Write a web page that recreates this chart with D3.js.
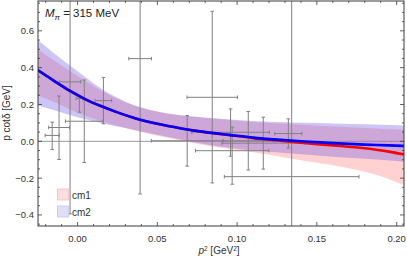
<!DOCTYPE html>
<html>
<head>
<meta charset="utf-8">
<script src="https://cdn.jsdelivr.net/npm/d3@7"></script>
<style>
  body { margin: 0; background: #fff; }
  text { font-family: "Liberation Sans", Arial, sans-serif; }
</style>
</head>
<body>
<script>
// lattice points: p^2, its error, p cot delta and its lower / upper ends
const pointX    = [-0.0159, -0.0116, -0.0047, 0.0011, 0.0042, 0.0162, 0.0392, 0.0687, 0.0844, 0.0959, 0.0969, 0.107, 0.1164, 0.1321, 0.1342];
const pointXErr = [0.0044, 0.0065, 0.0067, 0.002, 0.0118, 0.0052, 0.0071, 0.0225, 0.0158, 0.0243, 0.023, 0.016, 0.026, 0.0085, 0.0422];
const pointY    = [0.032, 0.075, 0.323, 0.232, 0.109, 0.221, 0.449, 0.003, 0.239, 0.049, -0.051, 0.003, -0.01, 0.042, -0.192];
const pointYLo  = [-0.045, -0.099, -0.394, 0.158, -0.115, 0.095, -0.286, -0.135, -0.226, -0.081, -0.233, -0.156, -0.151, -0.036, -2.0];
const pointYHi  = [0.104, 0.246, 1.04, 0.24, 0.333, 0.347, 1.18, 0.140, 0.706, 0.176, 0.077, 0.162, 0.131, 0.122, 1.6];

// fit curves
const curveX   = [-0.025, -0.015, -0.005, 0.005, 0.015, 0.025, 0.035, 0.05, 0.065, 0.08, 0.095, 0.11, 0.125, 0.14, 0.16, 0.18, 0.195, 0.205];
const cm1Line  = [0.387, 0.33, 0.275, 0.228, 0.19, 0.157, 0.128, 0.095, 0.07, 0.05, 0.034, 0.017, 0.004, -0.008, -0.022, -0.038, -0.056, -0.072];
const cm2Line  = [0.387, 0.33, 0.275, 0.228, 0.19, 0.157, 0.128, 0.095, 0.07, 0.05, 0.035, 0.02, 0.009, 0.0, -0.01, -0.018, -0.022, -0.025];

const bandX  = [-0.025, -0.015, 0.0, 0.015, 0.03, 0.05, 0.07, 0.09, 0.11, 0.13, 0.15, 0.17, 0.19, 0.205];
const cm1Lo  = [0.25, 0.215, 0.155, 0.11, 0.072, 0.03, -0.005, -0.035, -0.06, -0.088, -0.117, -0.147, -0.19, -0.24];
const cm1Hi  = [0.50, 0.44, 0.355, 0.275, 0.212, 0.16, 0.135, 0.12, 0.105, 0.095, 0.085, 0.077, 0.068, 0.063];
const cm2Lo  = [0.195, 0.17, 0.13, 0.098, 0.072, 0.035, 0.0, -0.03, -0.05, -0.063, -0.077, -0.09, -0.1, -0.112];
const cm2Hi  = [0.55, 0.48, 0.38, 0.285, 0.215, 0.162, 0.137, 0.122, 0.11, 0.104, 0.099, 0.094, 0.09, 0.086];

const xTicks = [0.00, 0.05, 0.10, 0.15, 0.20];
const yTicks = [-0.4, -0.2, 0.0, 0.2, 0.4, 0.6];
const legendNames = ["cm1", "cm2"];

const W = 407, H = 257;
const pLeft = 38, pRight = 404, pTop = 1, pBottom = 226;

const svg = d3.select("body").append("svg")
    .attr("width", W).attr("height", H);

const x = d3.scaleLinear().domain([-0.0248, 0.2046]).range([pLeft, pRight]);
const y = d3.scaleLinear().domain([-0.46, 0.762]).range([pBottom, pTop]);

svg.append("clipPath").attr("id", "plot")
  .append("rect").attr("x", pLeft).attr("y", pTop)
  .attr("width", pRight - pLeft).attr("height", pBottom - pTop);

const g = svg.append("g").attr("clip-path", "url(#plot)");

// zero line
g.append("line")
  .attr("x1", pLeft).attr("x2", pRight)
  .attr("y1", y(0)).attr("y2", y(0))
  .attr("stroke", "#999").attr("stroke-width", 1);

// bands
const area = d3.area().curve(d3.curveMonotoneX);
function band(lo, hi, fill, op) {
  g.append("path")
    .datum(bandX.map((v, i) => [x(v), y(lo[i]), y(hi[i])]))
    .attr("d", area.x(d => d[0]).y0(d => d[1]).y1(d => d[2]))
    .attr("fill", fill).attr("fill-opacity", op);
}
band(cm1Lo, cm1Hi, "rgb(255,140,140)", 0.4);
band(cm2Lo, cm2Hi, "rgb(110,90,230)", 0.35);

// error bars
const bars = g.append("g").attr("stroke", "#808080").attr("stroke-width", 1).attr("fill", "none");
const cap = 1.8;
pointX.forEach((px, i) => {
  const cx = x(px), cy = y(pointY[i]);
  const x0 = x(px - pointXErr[i]), x1 = x(px + pointXErr[i]);
  const y0 = y(pointYLo[i]), y1 = y(pointYHi[i]);
  bars.append("line").attr("x1", cx).attr("x2", cx).attr("y1", y0).attr("y2", y1);
  bars.append("line").attr("x1", x0).attr("x2", x1).attr("y1", cy).attr("y2", cy);
  bars.append("line").attr("x1", cx - cap).attr("x2", cx + cap).attr("y1", y0).attr("y2", y0);
  bars.append("line").attr("x1", cx - cap).attr("x2", cx + cap).attr("y1", y1).attr("y2", y1);
  bars.append("line").attr("x1", x0).attr("x2", x0).attr("y1", cy - cap).attr("y2", cy + cap);
  bars.append("line").attr("x1", x1).attr("x2", x1).attr("y1", cy - cap).attr("y2", cy + cap);
});

// fit lines
const line = d3.line().curve(d3.curveMonotoneX);
g.append("path")
  .attr("d", line(curveX.map((v, i) => [x(v), y(cm1Line[i])])))
  .attr("fill", "none").attr("stroke", "#ff0000").attr("stroke-width", 2.6);
g.append("path")
  .attr("d", line(curveX.map((v, i) => [x(v), y(cm2Line[i])])))
  .attr("fill", "none").attr("stroke", "#0000ff").attr("stroke-width", 2.6);

// frame
svg.append("rect")
  .attr("x", pLeft).attr("y", pTop)
  .attr("width", pRight - pLeft).attr("height", pBottom - pTop)
  .attr("fill", "none").attr("stroke", "#3a3a3a").attr("stroke-width", 1);

// ticks (inward)
const tk = svg.append("g").attr("stroke", "#3a3a3a").attr("stroke-width", 0.8);
d3.range(-0.02, 0.2041, 0.01).forEach(v => {
  const major = xTicks.some(t => Math.abs(t - v) < 1e-6);
  const len = major ? 4 : 2;
  tk.append("line").attr("x1", x(v)).attr("x2", x(v)).attr("y1", pBottom).attr("y2", pBottom - len);
  tk.append("line").attr("x1", x(v)).attr("x2", x(v)).attr("y1", pTop).attr("y2", pTop + len);
});
d3.range(-0.45, 0.76, 0.05).forEach(v => {
  const major = yTicks.some(t => Math.abs(t - v) < 1e-6);
  const len = major ? 4 : 2;
  tk.append("line").attr("x1", pLeft).attr("x2", pLeft + len).attr("y1", y(v)).attr("y2", y(v));
  tk.append("line").attr("x1", pRight).attr("x2", pRight - len).attr("y1", y(v)).attr("y2", y(v));
});

// tick labels
svg.append("g").selectAll("text").data(xTicks).join("text")
  .attr("x", d => x(d)).attr("y", 242)
  .attr("text-anchor", "middle").attr("font-size", 9.5).attr("fill", "#333")
  .text(d => d3.format(".2f")(d));
svg.append("g").selectAll("text").data(yTicks).join("text")
  .attr("x", 34).attr("y", d => y(d) + 3.4)
  .attr("text-anchor", "end").attr("font-size", 9.5).attr("fill", "#333")
  .text(d => d3.format(".1f")(d).replace("-", "\u2212"));

// axis labels
const xl = svg.append("text").attr("x", 219).attr("y", 254)
  .attr("text-anchor", "middle").attr("font-size", 10).attr("fill", "#333");
xl.append("tspan").attr("font-style", "italic").text("p");
xl.append("tspan").attr("dy", -3.5).attr("font-size", 6.5).text("2");
xl.append("tspan").attr("dy", 3.5).text(" [GeV");
xl.append("tspan").attr("dy", -3.5).attr("font-size", 6.5).text("2");
xl.append("tspan").attr("dy", 3.5).text("]");

svg.append("text")
  .attr("transform", "translate(10,113) rotate(-90)")
  .attr("text-anchor", "middle").attr("font-size", 10).attr("fill", "#333")
  .text("p cot\u03b4 [GeV]");

// title
const tt = svg.append("text").attr("x", 45).attr("y", 17).attr("font-size", 11.5).attr("fill", "#222");
tt.append("tspan").attr("font-style", "italic").text("M");
tt.append("tspan").attr("font-style", "italic").attr("font-size", 8).attr("dy", 3).text("\u03c0");
tt.append("tspan").attr("dy", -3).text(" = 315 MeV");

// legend
const legFill = ["rgb(253,222,224)", "rgb(222,224,250)"];
const legStroke = ["rgb(240,190,195)", "rgb(195,198,240)"];
const lg = svg.append("g");
legendNames.forEach((n, i) => {
  const yy = 189 + i * 17;
  lg.append("rect").attr("x", 57.5).attr("y", yy).attr("width", 11).attr("height", 11)
    .attr("fill", legFill[i]).attr("stroke", legStroke[i]).attr("stroke-width", 0.8);
  lg.append("text").attr("x", 72).attr("y", yy + 9.5).attr("font-size", 10).attr("fill", "#333").text(n);
});
</script>
</body>
</html>
